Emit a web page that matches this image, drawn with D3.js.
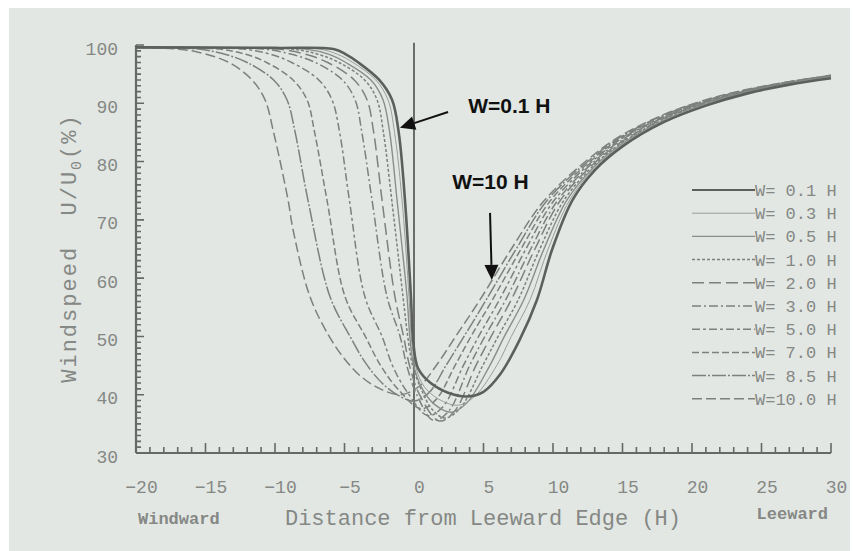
<!DOCTYPE html>
<html>
<head>
<meta charset="utf-8">
<script src="https://cdn.jsdelivr.net/npm/d3@7"></script>
<style>
body { margin: 0; background: #fff; }
svg { display: block; }
</style>
</head>
<body>
<svg id="chart" width="853" height="551"></svg>
<script>
// ---- data: [distance (H), U/U0 (%)] ----
const legendLabels = ["W= 0.1 H", "W= 0.3 H", "W= 0.5 H", "W= 1.0 H", "W= 2.0 H",
                      "W= 3.0 H", "W= 5.0 H", "W= 7.0 H", "W= 8.5 H", "W=10.0 H"];

const w01 = [[-20,99.6],[-10,99.5],[-5.8,99.3],[-4.9,98.4],[-4.0,97.0],[-2.5,94.0],[-1.58,90.6],[-1.1,85.0],[-0.65,73.4],[-0.22,56.8],
  [-0.05,49.0],[0.3,44.5],[1.2,42.0],[2.5,40.3],[3.8,39.7],[5.0,40.5],[6.2,43.5],[7.6,49.4],[8.85,56.3],[9.95,65.0],
  [11.4,73.4],[13,78.5],[15,82.6],[18,86.8],[21,89.6],[24,91.7],[27,93.2],[30,94.3]];
const w03 = [[-20,99.6],[-11,99.5],[-6.8,99.3],[-5.5,98.4],[-4.4,97.0],[-2.75,94.0],[-1.87,90.6],[-1.4,85.0],[-0.86,73.4],[-0.36,56.8],
  [-0.2,50.0],[0.1,45.0],[0.7,41.5],[1.8,39.2],[3.2,38.2],[4.4,39.8],[5.95,45.0],[7.0,50.0],[8.35,56.3],[9.65,65.0],
  [11.2,73.4],[13,78.9],[15,82.9],[18,87.0],[21,89.7],[24,91.8],[27,93.3],[30,94.4]];
const w05 = [[-20,99.6],[-12,99.5],[-7.8,99.3],[-6.1,98.4],[-4.9,97.0],[-3.1,94.0],[-2.23,90.6],[-1.75,85.0],[-1.22,73.4],[-0.5,56.8],
  [-0.3,50.0],[-0.02,45.0],[0.6,41.0],[1.5,38.3],[2.7,37.0],[3.8,38.6],[5.45,45.0],[6.5,50.0],[7.9,56.3],[9.35,65.0],
  [11.0,73.4],[13,79.2],[15,83.1],[18,87.1],[21,89.9],[24,91.9],[27,93.4],[30,94.5]];
const w10 = [[-20,99.6],[-13,99.5],[-8.8,99.3],[-6.9,98.4],[-5.4,97.0],[-3.55,94.0],[-2.66,90.6],[-2.2,85.0],[-1.6,73.4],[-0.79,56.8],
  [-0.45,50.0],[-0.1,45.0],[0.6,40.5],[1.3,37.5],[2.2,36.0],[3.3,37.6],[4.95,45.0],[6.05,50.0],[7.5,56.3],[9.05,65.0],
  [10.8,73.4],[13,79.5],[15,83.3],[18,87.3],[21,90.0],[24,92.0],[27,93.4],[30,94.5]];
const w20 = [[-20,99.6],[-14,99.5],[-9.8,99.3],[-7.8,98.4],[-6.2,97.0],[-4.3,94.0],[-3.38,90.6],[-2.9,85.0],[-2.3,73.4],[-1.37,56.8],
  [-0.75,50.0],[-0.3,44.8],[0.4,40.0],[1.8,35.5],[2.9,37.1],[4.45,45.0],[5.55,50.0],[7.0,56.3],[8.7,65.0],
  [10.55,73.4],[13,79.8],[15,83.5],[18,87.4],[21,90.1],[24,92.0],[27,93.5],[30,94.6]];
const w30 = [[-20,99.6],[-15,99.5],[-10.8,99.3],[-8.8,98.4],[-7.1,97.0],[-5.15,94.0],[-4.24,90.6],[-3.75,85.0],[-3.02,73.4],[-1.94,56.8],
  [-1.0,50.0],[-0.5,44.8],[0.2,40.0],[1.4,35.6],[2.5,37.2],[4.0,45.0],[5.1,50.0],[6.6,56.3],[8.4,65.0],
  [10.35,73.4],[13,80.1],[15,83.8],[18,87.6],[21,90.2],[24,92.1],[27,93.5],[30,94.6]];
const w50 = [[-20,99.6],[-16,99.5],[-12.3,99.3],[-10.3,98.4],[-8.8,97.0],[-6.85,94.0],[-5.9,90.6],[-5.35,85.0],[-4.65,73.4],[-3.53,56.8],
  [-2.3,50.0],[-1.51,44.8],[-0.5,40.5],[1.0,36.4],[2.1,38.0],[3.55,45.0],[4.65,50.0],[6.15,56.3],[8.05,65.0],
  [10.1,73.4],[13,80.4],[15,84.0],[18,87.7],[21,90.3],[24,92.2],[27,93.6],[30,94.7]];
const w70 = [[-20,99.6],[-17,99.5],[-14.0,99.3],[-12.1,98.4],[-10.6,97.0],[-8.7,94.0],[-7.7,90.6],[-7.15,85.0],[-6.26,73.4],[-4.96,56.8],
  [-3.5,50.0],[-2.4,45.0],[-1.1,40.8],[0.5,37.6],[1.6,39.2],[2.95,45.0],[4.1,50.0],[5.65,56.3],[7.7,65.0],
  [9.85,73.4],[13,80.7],[15,84.2],[18,87.8],[21,90.4],[24,92.3],[27,93.6],[30,94.7]];
const w85 = [[-20,99.6],[-18,99.5],[-15.5,99.3],[-13.6,98.4],[-12.0,97.0],[-10.1,94.0],[-9.14,90.6],[-8.55,85.0],[-7.63,73.4],[-6.04,56.8],
  [-4.6,50.0],[-3.5,45.5],[-2.3,42.0],[-1.0,39.7],[0.0,38.9],[1.1,40.4],[2.3,45.0],[3.6,50.0],[5.2,56.3],[7.35,65.0],
  [9.6,73.4],[13,81.0],[15,84.4],[18,88.0],[21,90.5],[24,92.3],[27,93.7],[30,94.8]];
const w100 = [[-20,99.6],[-18.5,99.5],[-17.0,99.3],[-15.6,98.8],[-13.3,97.0],[-11.65,94.0],[-10.72,90.6],[-10.1,85.0],[-9.06,73.4],
  [-8.7,68.3],[-7.48,56.8],[-6.1,50.0],[-4.95,46.0],[-3.9,43.3],[-2.6,41.2],[-1.0,40.0],[0.4,41.5],[1.6,45.0],
  [3.0,50.0],[4.75,56.3],[7.0,65.0],[9.4,73.4],[13,81.3],[15,84.6],[18,88.1],[21,90.6],[24,92.4],[27,93.7],[30,94.8]];

const series = [w01, w03, w05, w10, w20, w30, w50, w70, w85, w100];

const xTicks = [-20, -15, -10, -5, 0, 5, 10, 15, 20, 25, 30];
const yTicks = [30, 40, 50, 60, 70, 80, 90, 100];
const xMinor = d3.range(-20, 31, 1);
const yMinor = d3.range(30, 101, 1);

// ---- styles ----
const dashes = ["none", "none", "none", "3,2", "12,5", "9,3,2,3", "8,3,3,3", "7,3", "14,2,2,2", "10,4"];
const strokeW = [2.6, 1.0, 1.4, 1.5, 1.5, 1.5, 1.5, 1.5, 1.5, 1.5];
const strokeC = ["#5c5f5c", "#9a9d9a", "#8a8d8a", "#7d807d", "#7d807d", "#7d807d", "#7d807d", "#7d807d", "#7d807d", "#7d807d"];

const svg = d3.select("#chart");
const x = d3.scaleLinear().domain([-20, 30]).range([136, 831]);
const y = d3.scaleLinear().domain([30, 100]).range([453, 45]);

// scanned paper background
svg.append("rect").attr("x", 9).attr("y", 8).attr("width", 841).attr("height", 543)
  .attr("fill", "#e2e7e3");

const axisColor = "#666966";
const textColor = "#858885";
const mono = "'Liberation Mono', 'DejaVu Sans Mono', monospace";

// tick marks pointing into the plot, drawn as one path each
const yTickPath = yMinor.map(d => `M${x(-20)},${y(d)}h${d % 10 === 0 ? 8 : 5}`).join("");
const xTickPath = xMinor.map(d => `M${x(d)},${y(30)}v${d % 5 === 0 ? -10 : -6}`).join("");
svg.append("path").attr("d", yTickPath).attr("fill", "none")
  .attr("stroke", axisColor).attr("stroke-width", 1.6);
svg.append("path").attr("d", xTickPath).attr("fill", "none")
  .attr("stroke", axisColor).attr("stroke-width", 1.6);

// tick labels
const gy = svg.append("g").attr("transform", `translate(${x(-20)},0)`)
  .call(d3.axisLeft(y).tickValues(yTicks).tickSize(0).tickPadding(18));
const gx = svg.append("g").attr("transform", `translate(0,${y(30)})`)
  .call(d3.axisBottom(x).tickValues(xTicks).tickSize(0).tickPadding(27));
[gy, gx].forEach(g => {
  g.select(".domain").remove();
  g.selectAll("text").attr("fill", textColor).style("font-family", mono).style("font-size", "18px");
});
gx.selectAll(".tick text").attr("dx", 5);
gy.selectAll(".tick text").attr("dy", "0.5em");

// axis lines
svg.append("line").attr("x1", x(-20)).attr("x2", x(-20)).attr("y1", y(100)).attr("y2", y(30))
  .attr("stroke", axisColor).attr("stroke-width", 2.2);
svg.append("line").attr("x1", x(-20)).attr("x2", x(30)).attr("y1", y(30)).attr("y2", y(30))
  .attr("stroke", axisColor).attr("stroke-width", 2.2);
// leeward edge marker
svg.append("line").attr("x1", x(0)).attr("x2", x(0)).attr("y1", y(100.4)).attr("y2", y(30))
  .attr("stroke", "#6a6d6a").attr("stroke-width", 2);

// curves
const line = d3.line().x(d => x(d[0])).y(d => y(d[1])).curve(d3.curveCatmullRom.alpha(0.5));
const order = d3.range(series.length).reverse();
svg.append("g").selectAll("path").data(order).join("path")
  .attr("d", i => line(series[i]))
  .attr("fill", "none")
  .attr("stroke", i => strokeC[i])
  .attr("stroke-width", i => strokeW[i])
  .attr("stroke-dasharray", i => dashes[i]);

// legend
const leg = svg.append("g");
legendLabels.forEach((lab, i) => {
  const ly = 190 + i * 23.2;
  leg.append("line").attr("x1", 692).attr("x2", 755).attr("y1", ly).attr("y2", ly)
    .attr("stroke", strokeC[i]).attr("stroke-width", Math.min(strokeW[i], 2))
    .attr("stroke-dasharray", dashes[i]);
  leg.append("text").attr("x", 755).attr("y", ly + 6).text(lab)
    .attr("fill", textColor).style("font-family", mono).style("font-size", "17px")
    .style("white-space", "pre");
});

// axis titles
svg.append("text").attr("x", 483).attr("y", 525).attr("text-anchor", "middle")
  .attr("fill", textColor).style("font-family", mono).style("font-size", "22px")
  .text("Distance from Leeward Edge (H)");
svg.append("text").attr("x", 138).attr("y", 524)
  .attr("fill", textColor).style("font-family", mono).style("font-size", "17px").style("font-weight", "bold")
  .text("Windward");
svg.append("text").attr("x", 828).attr("y", 519).attr("text-anchor", "end")
  .attr("fill", textColor).style("font-family", mono).style("font-size", "17px").style("font-weight", "bold")
  .text("Leeward");
const yt = svg.append("text").attr("transform", "translate(76,248) rotate(-90)").attr("text-anchor", "middle")
  .attr("fill", textColor).style("font-family", mono).style("font-size", "22px")
  .style("letter-spacing", "2px").style("white-space", "pre");
yt.append("tspan").text("Windspeed  U/U");
yt.append("tspan").attr("dy", 5).style("font-size", "15px").text("0");
yt.append("tspan").attr("dy", -5).text("(%)");

// annotations
function arrow(from, to, label, lx, ly) {
  const x1 = x(from[0]), y1 = y(from[1]), x2 = x(to[0]), y2 = y(to[1]);
  const a = Math.atan2(y2 - y1, x2 - x1), len = 15, half = 7;
  const bx = x2 - len * Math.cos(a), by = y2 - len * Math.sin(a);
  svg.append("line").attr("x1", x1).attr("y1", y1).attr("x2", bx).attr("y2", by)
    .attr("stroke", "#111").attr("stroke-width", 2);
  svg.append("path").attr("fill", "#111")
    .attr("d", `M${x2},${y2}L${bx - half * Math.sin(a)},${by + half * Math.cos(a)}L${bx + half * Math.sin(a)},${by - half * Math.cos(a)}Z`);
  svg.append("text").attr("x", x(lx)).attr("y", y(ly)).text(label)
    .attr("fill", "#111").style("font-family", "'Liberation Sans', Arial, sans-serif")
    .style("font-size", "21px").style("font-weight", "bold");
}
arrow([2.45, 88.5], [-1.01, 85.8], "W=0.1 H", 3.9, 88.4);
arrow([5.47, 71.2], [5.6, 59.7], "W=10 H", 2.75, 75.3);
</script>
</body>
</html>
